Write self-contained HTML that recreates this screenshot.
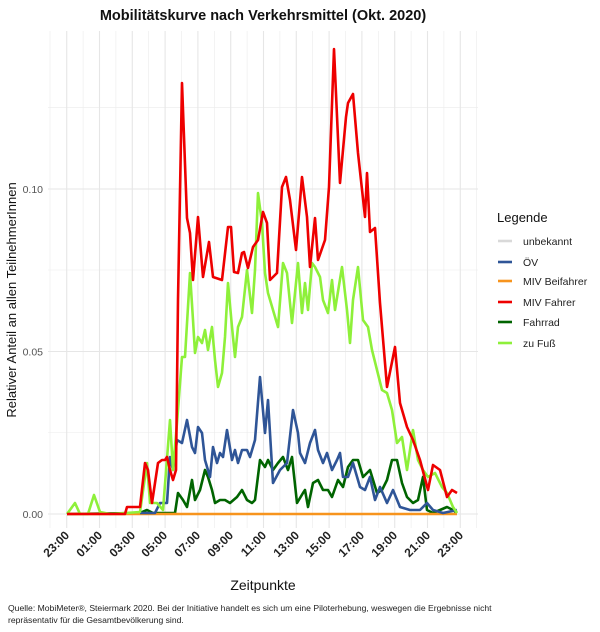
<!DOCTYPE html>
<html><head><meta charset="utf-8"><style>body{margin:0;background:#fff}svg{display:block}</style></head><body>
<svg width="600" height="632" viewBox="0 0 600 632" xmlns="http://www.w3.org/2000/svg" font-family="Liberation Sans, Arial, sans-serif">
<rect width="600" height="632" fill="#fff"/>
<g stroke="#ebebeb" stroke-width="0.6">
<line x1="48" x2="478" y1="107.7" y2="107.7"/><line x1="48" x2="478" y1="270" y2="270"/><line x1="48" x2="478" y1="432.5" y2="432.5"/>
<line x1="50" x2="50" y1="31" y2="528"/><line x1="83.1" x2="83.1" y1="31" y2="528"/><line x1="115.9" x2="115.9" y1="31" y2="528"/><line x1="148.7" x2="148.7" y1="31" y2="528"/><line x1="181.5" x2="181.5" y1="31" y2="528"/><line x1="214.3" x2="214.3" y1="31" y2="528"/><line x1="247.1" x2="247.1" y1="31" y2="528"/><line x1="279.9" x2="279.9" y1="31" y2="528"/><line x1="312.7" x2="312.7" y1="31" y2="528"/><line x1="345.5" x2="345.5" y1="31" y2="528"/><line x1="378.3" x2="378.3" y1="31" y2="528"/><line x1="411.1" x2="411.1" y1="31" y2="528"/><line x1="443.9" x2="443.9" y1="31" y2="528"/><line x1="476.7" x2="476.7" y1="31" y2="528"/>
</g>
<g stroke="#e6e6e6" stroke-width="1.1">
<line x1="48" x2="478" y1="189" y2="189"/><line x1="48" x2="478" y1="351.5" y2="351.5"/><line x1="48" x2="478" y1="514" y2="514"/>
<line x1="66.7" x2="66.7" y1="31" y2="528"/><line x1="99.5" x2="99.5" y1="31" y2="528"/><line x1="132.3" x2="132.3" y1="31" y2="528"/><line x1="165.1" x2="165.1" y1="31" y2="528"/><line x1="197.9" x2="197.9" y1="31" y2="528"/><line x1="230.7" x2="230.7" y1="31" y2="528"/><line x1="263.5" x2="263.5" y1="31" y2="528"/><line x1="296.3" x2="296.3" y1="31" y2="528"/><line x1="329.1" x2="329.1" y1="31" y2="528"/><line x1="361.9" x2="361.9" y1="31" y2="528"/><line x1="394.7" x2="394.7" y1="31" y2="528"/><line x1="427.5" x2="427.5" y1="31" y2="528"/><line x1="460.3" x2="460.3" y1="31" y2="528"/>
</g>
<g fill="none" stroke-width="2.6" stroke-linejoin="round">
<polyline stroke="#006400" points="67,514 140,513 147,510 153,513 175,513 178,493 183,500 187,507 192,480 195,500 200,490 205,470 208,477 212,490 215,503 220,500 225,500 230,503 237,497 242,490 247,500 252,503 255,500 260,460 265,467 268,460 273,470 278,463 283,457 288,470 292,457 297,503 303,493 305,490 308,507 313,483 318,480 323,490 328,490 332,497 338,480 343,487 348,467 353,460 358,460 363,477 370,470 377,493 382,490 387,480 392,460 397,460 402,483 407,497 413,503 418,500 423,477 427,510 433,513 440,510 447,507 453,510 457,513"/>
<polyline stroke="#f7941d" points="67,514 457,514"/>
<polyline stroke="#2f5597" points="140,513 155,513 160,503 167,503 170,457 173,470 177,440 182,443 187,420 192,447 195,453 198,427 202,433 205,460 210,477 213,447 217,463 220,453 223,457 227,430 232,460 235,450 238,463 242,450 247,450 250,457 255,440 260,377 265,433 268,400 273,483 280,470 287,463 293,410 298,433 300,453 305,463 310,443 315,430 318,450 323,463 327,453 332,470 337,460 340,453 343,477 348,477 353,463 360,487 365,490 370,477 375,500 380,487 387,503 393,490 400,507 410,510 420,510 427,503 433,510 443,513 457,510"/>
<polyline stroke="#8ef03a" points="67,514 75,503 80,514 88,514 94,495 100,512 110,514 125,513 140,512 147,463 150,503 157,503 163,510 170,420 173,470 177,423 182,357 185,357 190,273 193,320 195,353 198,337 202,343 205,330 208,350 212,327 215,360 218,387 222,373 225,337 228,283 232,327 235,357 238,327 242,317 247,270 252,313 255,270 258,193 262,223 265,273 268,293 273,310 278,327 283,263 287,273 292,323 298,263 302,313 305,283 308,310 312,263 315,267 320,277 323,300 328,313 332,280 335,310 342,267 347,310 350,343 353,300 358,267 363,320 368,327 372,350 377,370 382,390 387,393 392,410 397,443 402,437 407,470 413,430 418,460 423,470 428,477 435,473 442,487 447,493 453,507 457,513"/>
<polyline stroke="#ee0000" points="67,514 125,514 127,507 140,507 145,463 148,470 152,503 158,463 162,460 165,460 167,457 170,470 173,480 176,470 178,300 182,83 187,218 190,233 193,280 198,217 203,277 209,242 213,277 222,280 228,227 231,227 234,272 238,273 242,253 244,252 248,268 253,247 258,240 263,212 267,223 270,280 277,273 282,187 286,177 290,200 296,250 302,177 307,217 310,267 315,218 318,260 325,240 329,187 334,49 340,183 346,117 348,103 353,94 358,153 365,217 367,173 370,232 375,228 380,303 387,387 395,347 400,403 407,427 413,440 420,460 428,490 433,465 440,470 447,497 452,490 457,493"/>
</g>
<text x="263" y="20" text-anchor="middle" font-size="14.5" font-weight="bold" fill="#111">Mobilitätskurve nach Verkehrsmittel (Okt. 2020)</text>
<g font-size="10.5" fill="#555" text-anchor="end"><text x="43" y="193">0.10</text><text x="43" y="355.5">0.05</text><text x="43" y="518">0.00</text></g>
<text transform="translate(16,300) rotate(-90)" text-anchor="middle" font-size="13" fill="#111">Relativer Anteil an allen TeilnehmerInnen</text>
<g font-size="12" font-weight="bold" fill="#222" text-anchor="end">
<text transform="translate(70,536) rotate(-45)">23:00</text><text transform="translate(103,536) rotate(-45)">01:00</text><text transform="translate(136,536) rotate(-45)">03:00</text><text transform="translate(168,536) rotate(-45)">05:00</text><text transform="translate(201,536) rotate(-45)">07:00</text><text transform="translate(234,536) rotate(-45)">09:00</text><text transform="translate(267,536) rotate(-45)">11:00</text><text transform="translate(300,536) rotate(-45)">13:00</text><text transform="translate(332,536) rotate(-45)">15:00</text><text transform="translate(365,536) rotate(-45)">17:00</text><text transform="translate(398,536) rotate(-45)">19:00</text><text transform="translate(431,536) rotate(-45)">21:00</text><text transform="translate(464,536) rotate(-45)">23:00</text>
</g>
<text x="263" y="590" text-anchor="middle" font-size="14" fill="#111">Zeitpunkte</text>
<text x="497" y="222" font-size="13" fill="#111">Legende</text>
<g stroke-width="2.6">
<line x1="498" x2="512" y1="241" y2="241" stroke="#d9d9d9"/><line x1="498" x2="512" y1="262" y2="262" stroke="#2f5597"/><line x1="498" x2="512" y1="281" y2="281" stroke="#f7941d"/><line x1="498" x2="512" y1="302" y2="302" stroke="#ee0000"/><line x1="498" x2="512" y1="322" y2="322" stroke="#006400"/><line x1="498" x2="512" y1="343" y2="343" stroke="#8ef03a"/>
</g>
<g font-size="10.5" fill="#222"><text x="523" y="245">unbekannt</text><text x="523" y="266">ÖV</text><text x="523" y="285">MIV Beifahrer</text><text x="523" y="306">MIV Fahrer</text><text x="523" y="326">Fahrrad</text><text x="523" y="347">zu Fuß</text></g>
<g font-size="8.6" fill="#222"><text x="8" y="611">Quelle: MobiMeter®, Steiermark 2020. Bei der Initiative handelt es sich um eine Piloterhebung, weswegen die Ergebnisse nicht</text><text x="8" y="623">repräsentativ für die Gesamtbevölkerung sind.</text></g>
</svg>
</body></html>
